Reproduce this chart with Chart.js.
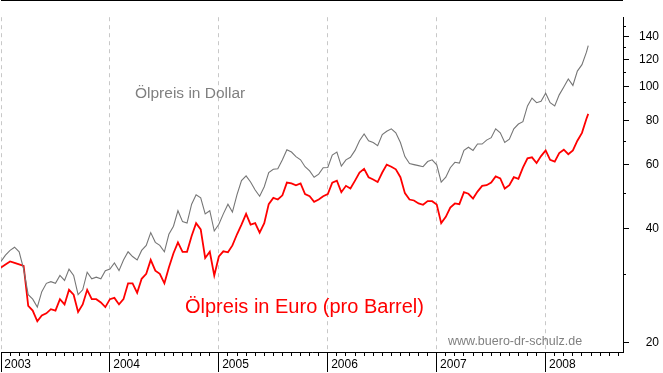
<!DOCTYPE html>
<html>
<head>
<meta charset="utf-8">
<script src="https://cdn.jsdelivr.net/npm/chart.js@4.4.1/dist/chart.umd.min.js"></script>
<style>
  html, body { margin: 0; padding: 0; background: #fff; }
  #wrap { position: relative; width: 663px; height: 373px; overflow: hidden; }
  canvas { position: absolute; left: 0; top: 0; }
  .note { position: absolute; font-family: "Liberation Sans", Arial, sans-serif; line-height: 1; white-space: nowrap; }
</style>
</head>
<body>
<div id="wrap">
  <canvas id="oilChart" width="663" height="373"></canvas>
  <div class="note" id="lblUsd" style="left:135px;top:85px;font-size:15.5px;color:#808080">Ölpreis in Dollar</div>
  <div class="note" id="lblEur" style="left:185px;top:296px;font-size:20px;color:#ff0000">Ölpreis in Euro (pro Barrel)</div>
  <div class="note" id="lblSrc" style="left:448px;top:335px;font-size:12.5px;color:#808080">www.buero-dr-schulz.de</div>
</div>
<script>
// half-monthly readings, Brent in USD and EUR per barrel
const dates = [
  '2003-01-01','2003-01-16','2003-02-01','2003-02-16','2003-03-01','2003-03-16','2003-04-01','2003-04-16','2003-05-01','2003-05-16','2003-06-01','2003-06-16',
  '2003-07-01','2003-07-16','2003-08-01','2003-08-16','2003-09-01','2003-09-16','2003-10-01','2003-10-16','2003-11-01','2003-11-16','2003-12-01','2003-12-16',
  '2004-01-01','2004-01-16','2004-02-01','2004-02-16','2004-03-01','2004-03-16','2004-04-01','2004-04-16','2004-05-01','2004-05-16','2004-06-01','2004-06-16',
  '2004-07-01','2004-07-16','2004-08-01','2004-08-16','2004-09-01','2004-09-16','2004-10-01','2004-10-16','2004-11-01','2004-11-16','2004-12-01','2004-12-16',
  '2005-01-01','2005-01-16','2005-02-01','2005-02-16','2005-03-01','2005-03-16','2005-04-01','2005-04-16','2005-05-01','2005-05-16','2005-06-01','2005-06-16',
  '2005-07-01','2005-07-16','2005-08-01','2005-08-16','2005-09-01','2005-09-16','2005-10-01','2005-10-16','2005-11-01','2005-11-16','2005-12-01','2005-12-16',
  '2006-01-01','2006-01-16','2006-02-01','2006-02-16','2006-03-01','2006-03-16','2006-04-01','2006-04-16','2006-05-01','2006-05-16','2006-06-01','2006-06-16',
  '2006-07-01','2006-07-16','2006-08-01','2006-08-16','2006-09-01','2006-09-16','2006-10-01','2006-10-16','2006-11-01','2006-11-16','2006-12-01','2006-12-16',
  '2007-01-01','2007-01-16','2007-02-01','2007-02-16','2007-03-01','2007-03-16','2007-04-01','2007-04-16','2007-05-01','2007-05-16','2007-06-01','2007-06-16',
  '2007-07-01','2007-07-16','2007-08-01','2007-08-16','2007-09-01','2007-09-16','2007-10-01','2007-10-16','2007-11-01','2007-11-16','2007-12-01','2007-12-16',
  '2008-01-01','2008-01-16','2008-02-01','2008-02-16','2008-03-01','2008-03-16','2008-04-01','2008-04-16','2008-05-01','2008-05-16','2008-05-22'
];

const usd = [
  32.5, 33.8, 34.8, 35.5, 34.5, 31.0, 26.5, 25.8, 24.6, 27.0, 28.4, 28.7, 28.4, 29.8, 28.9, 31.0, 29.8, 26.5, 27.3, 30.4, 29.2, 29.5, 29.2, 30.7,
  31.0, 32.2, 30.7, 32.8, 34.5, 33.5, 32.8, 34.8, 35.9, 38.9, 36.6, 35.9, 34.5, 38.5, 40.5, 44.7, 41.7, 41.3, 46.6, 49.5, 48.5, 43.8, 44.7, 39.3,
  41.0, 43.8, 46.6, 44.3, 49.5, 54.2, 55.9, 53.7, 51.0, 49.0, 52.1, 57.1, 58.3, 58.5, 62.0, 66.2, 65.2, 63.3, 62.0, 59.3, 57.7, 55.4, 56.5, 58.9,
  59.0, 63.9, 65.2, 59.5, 62.0, 63.0, 65.9, 70.2, 73.4, 70.2, 69.4, 68.0, 73.1, 74.7, 75.9, 73.9, 69.4, 63.3, 60.5, 60.1, 59.7, 59.3, 61.3, 62.0,
  60.0, 53.7, 55.4, 58.9, 61.0, 60.7, 65.9, 67.3, 65.9, 68.7, 68.7, 70.5, 71.6, 75.9, 73.9, 69.4, 70.9, 75.9, 78.3, 79.5, 88.2, 92.9, 90.1, 91.0,
  95.9, 90.1, 88.2, 94.9, 100.0, 105.4, 101.0, 111.1, 115.9, 126.0, 131.5
];

const eur = [
  31.3, 31.9, 32.5, 32.2, 31.9, 31.6, 24.8, 24.1, 22.6, 23.4, 23.7, 24.3, 24.1, 25.8, 25.0, 27.3, 26.5, 23.9, 25.0, 27.3, 25.8, 25.8, 25.3, 24.6,
  25.8, 26.0, 25.0, 25.8, 28.4, 28.4, 26.8, 29.2, 30.1, 32.8, 30.7, 30.1, 28.4, 31.3, 34.2, 36.6, 34.5, 34.5, 38.1, 41.3, 39.7, 33.2, 34.5, 29.8,
  33.5, 34.6, 34.4, 35.9, 38.5, 40.9, 43.8, 40.9, 41.3, 38.9, 41.3, 46.6, 48.5, 48.0, 49.3, 53.5, 53.2, 52.6, 53.2, 49.7, 49.0, 47.3, 48.0, 49.0,
  49.7, 53.5, 54.2, 50.3, 52.4, 51.5, 54.2, 57.1, 58.5, 55.4, 54.6, 53.7, 57.1, 60.1, 59.3, 58.3, 55.4, 50.0, 48.0, 47.7, 46.8, 46.4, 47.5, 47.5,
  46.5, 41.3, 43.0, 45.6, 46.8, 46.6, 50.3, 49.8, 48.3, 50.5, 52.4, 52.6, 53.5, 55.7, 55.0, 51.5, 52.6, 55.4, 54.8, 58.9, 62.6, 63.0, 60.7, 63.5,
  65.9, 62.0, 61.3, 64.8, 66.2, 64.3, 65.9, 70.2, 73.9, 81.1, 83.7
];

const yearLabels = ['2003', '2004', '2005', '2006', '2007', '2008'];
const yTicks = [20, 40, 60, 80, 100, 120, 140];
const yMinorTicks = [30, 50, 70, 90, 110, 130, 150];

const FONT = '"Liberation Sans", Arial, sans-serif';
const OFFSET = 3; // the original axis is a log scale of (value - 3)

class ShiftedLogScale extends Chart.LinearScale {
  configure() {
    super.configure();
    this._lo = Math.log(this.min - OFFSET);
    this._hi = Math.log(this.max - OFFSET);
  }
  getPixelForValue(value) {
    if (value === null || value === undefined || isNaN(value)) return NaN;
    return this.getPixelForDecimal((Math.log(value - OFFSET) - this._lo) / (this._hi - this._lo));
  }
  getValueForPixel(pixel) {
    const d = this.getDecimalForPixel(pixel);
    return Math.exp(this._lo + d * (this._hi - this._lo)) + OFFSET;
  }
}
ShiftedLogScale.id = 'shiftedLog';
Chart.register(ShiftedLogScale);

function decYear(s) {
  const [y, m, d] = s.split('-').map(Number);
  return y + (m - 1) / 12 + (d - 1) / 365;
}

const monthTicks = [];
for (let i = 0; i <= 68; i++) monthTicks.push(2003 + i / 12);

const align = p => Math.round(p - 0.5) + 0.5;

// short minor ticks on the price axis, the long year bars and the top frame line
const axisMarks = {
  id: 'axisMarks',
  afterDraw(chart) {
    const { ctx, chartArea, scales } = chart;
    ctx.save();
    ctx.strokeStyle = '#000';
    ctx.lineWidth = 1;
    ctx.beginPath();
    yMinorTicks.forEach(v => {
      const py = align(scales.y.getPixelForValue(v));
      ctx.moveTo(chartArea.right, py);
      ctx.lineTo(chartArea.right + 3, py);
    });
    yearLabels.forEach(lbl => {
      const px = align(scales.x.getPixelForValue(Number(lbl)));
      ctx.moveTo(px, chartArea.bottom);
      ctx.lineTo(px, chart.height - 1);
    });
    ctx.moveTo(chartArea.left, 0.5);
    ctx.lineTo(chartArea.right, 0.5);
    ctx.stroke();
    ctx.restore();
  }
};

window.onload = () => {
  new Chart(document.getElementById('oilChart').getContext('2d'), {
    type: 'line',
    data: {
      datasets: [
        { label: 'Ölpreis in Dollar', data: dates.map((d, i) => ({ x: decYear(d), y: usd[i] })), borderColor: '#767676', borderWidth: 1.1, pointRadius: 0, tension: 0 },
        { label: 'Ölpreis in Euro', data: dates.map((d, i) => ({ x: decYear(d), y: eur[i] })), borderColor: '#ff0000', borderWidth: 1.8, pointRadius: 0, tension: 0 }
      ]
    },
    options: {
      responsive: false,
      animation: false,
      devicePixelRatio: 1,
      layout: { padding: { left: 1, right: 4, top: 0, bottom: 0 } },
      plugins: { legend: { display: false }, tooltip: { enabled: false } },
      scales: {
        x: {
          type: 'linear', position: 'bottom', min: 2003, max: 2008.71,
          afterBuildTicks: axis => { axis.ticks = monthTicks.map(v => ({ value: v })); },
          afterFit: axis => { axis.height = 21; },
          ticks: {
            autoSkip: false, maxRotation: 0, align: 'start', padding: 1, color: '#000',
            font: { family: FONT, size: 12 },
            callback: (v, i) => (i % 12 === 0 ? ' ' + yearLabels[i / 12] : '')
          },
          grid: {
            color: ctx => (ctx.index % 12 === 0 ? '#c8c8c8' : 'rgba(0,0,0,0)'),
            tickColor: '#000', tickLength: 4
          },
          border: { display: true, color: '#000', width: 1, dash: [4, 4] }
        },
        y: {
          type: 'shiftedLog', position: 'right', min: 18.9, max: 159.1,
          afterBuildTicks: axis => { axis.ticks = yTicks.map(v => ({ value: v })); },
          afterFit: axis => { axis.width = 36; },
          ticks: {
            color: '#000', padding: 10, crossAlign: 'far',
            font: { family: FONT, size: 12 },
            callback: v => String(v)
          },
          grid: { drawOnChartArea: false, tickLength: 6, tickColor: '#000' },
          border: { display: true, color: '#000', width: 1 }
        }
      }
    },
    plugins: [axisMarks]
  });
};
</script>
</body>
</html>
